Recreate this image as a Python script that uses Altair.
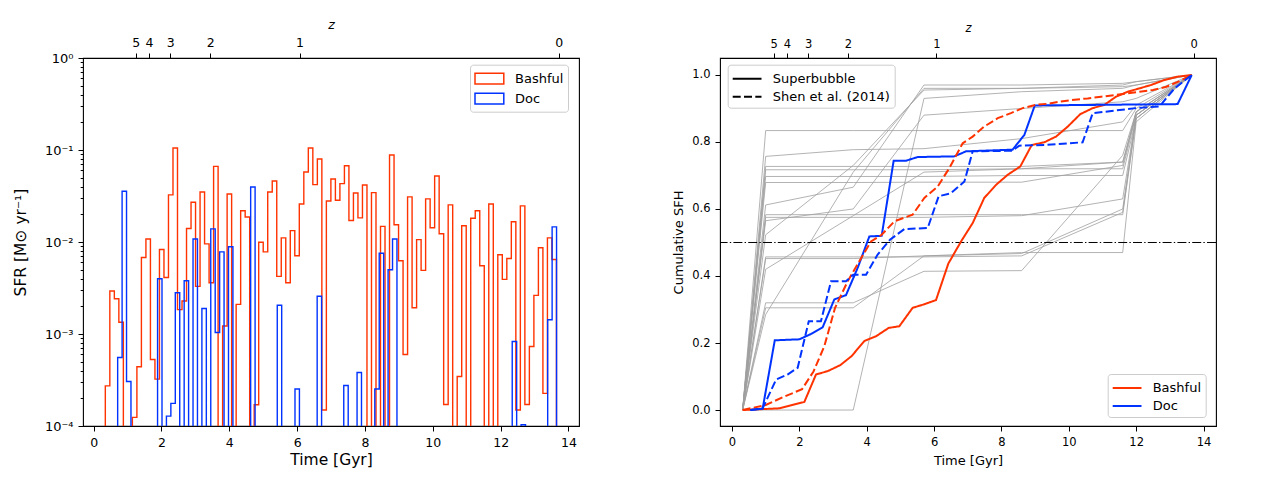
import altair as alt
import pandas as pd

FONT = "DejaVu Sans"
RED = "#ff3300"
BLUE = "#0033ff"
GREY = "#a0a0a0"

# ---------------- left panel: SFR histograms ----------------
bash_t0, bash_dt = 0.345, 0.133      # first bin edge / bin width [Gyr]
doc_t0, doc_dt = 0.709, 0.1307

bash_sfr = [
    2.73e-4, 2.93e-3, 2.42e-3, 1.34e-3, 0, 0, 1.24e-4, 4.40e-4, 6.79e-3, 1.08e-2,
    5.28e-4, 3.23e-4, 8.29e-3, 4.12e-3, 3.25e-2, 1.05e-1, 1.84e-3, 2.28e-3, 1.40e-2, 2.70e-2,
    3.29e-3, 3.50e-2, 9.55e-3, 3.61e-3, 6.64e-2, 0, 1.22e-3, 3.33e-2, 0, 2.10e-3,
    2.19e-2, 1.87e-2, 0, 1.70e-4, 9.95e-3, 7.82e-3, 3.50e-2, 4.61e-2, 4.23e-3, 1.11e-2,
    3.61e-3, 1.33e-2, 7.08e-3, 2.59e-2, 5.76e-2, 1.05e-1, 4.20e-2, 7.98e-2, 1.49e-4, 2.79e-2,
    4.84e-2, 2.84e-2, 4.31e-2, 6.75e-2, 1.71e-2, 3.41e-2, 1.83e-2, 4.17e-2, 0, 3.44e-2,
    0, 1.48e-2, 0, 8.81e-2, 1.54e-2, 6.25e-3, 5.98e-4, 3.09e-2, 1.93e-3, 1.06e-2,
    4.91e-3, 2.94e-2, 1.43e-2, 5.22e-2, 1.23e-2, 1.71e-4, 2.53e-2, 0, 3.45e-4, 1.50e-2,
    0, 1.81e-2, 2.19e-2, 5.52e-3, 0, 2.59e-2, 0, 7.26e-3, 3.92e-3, 6.62e-3,
    1.66e-2, 1.49e-4, 2.47e-2, 1.71e-4, 7.31e-4, 2.63e-3, 8.65e-3, 2.26e-4, 1.11e-2, 6.46e-3,
]

doc_sfr = [
    5.55e-4, 3.56e-2, 3.05e-4, 0, 0, 0, 0, 0, 0, 3.99e-3,
    0, 1.28e-4, 1.76e-4, 2.81e-3, 0, 3.79e-3, 0, 1.08e-2, 0, 1.89e-3,
    0, 1.39e-2, 1.04e-3, 7.82e-3, 0, 8.87e-3, 0, 0, 0, 0,
    3.96e-2, 0, 0, 0, 0, 0, 2.05e-3, 0, 0, 0,
    2.52e-4, 0, 0, 0, 0, 2.57e-3, 0, 0, 0, 0,
    0, 2.76e-4, 0, 0, 3.82e-4, 0, 0, 0, 2.52e-4, 7.56e-3,
    0, 4.99e-3, 1.08e-2, 0, 0, 0, 0, 0, 0, 0,
    0, 0, 0, 0, 0, 0, 0, 0, 0, 0,
    0, 0, 0, 0, 0, 0, 0, 0, 0, 8.28e-4,
    0, 1.03e-4, 0, 0, 0, 0, 0, 1.43e-3, 1.46e-2,
]

# redshift axis (top)
z_pos = [1.24, 1.63, 2.26, 3.44, 6.07, 13.71]
z_lab = ["5", "4", "3", "2", "1", "0"]

# ---------------- right panel: cumulative SFH ----------------
bash_sb_t = [0.317, 1.405, 2.148, 2.494, 2.84, 3.217, 3.553, 3.929, 4.275, 4.652, 4.968,
             5.364, 5.691, 6.057, 6.423, 6.80, 7.146, 7.49, 7.84, 8.185, 8.56, 8.9, 9.27,
             9.62, 9.97, 10.34, 10.71, 11.06, 11.4, 11.75, 12.1, 12.44, 12.84, 13.24, 13.65]
bash_sb_v = [0, 0.005, 0.024, 0.106, 0.116, 0.134, 0.161, 0.206, 0.220, 0.245, 0.250,
             0.305, 0.315, 0.328, 0.437, 0.503, 0.558, 0.633, 0.672, 0.702, 0.727, 0.791, 0.799,
             0.816, 0.846, 0.883, 0.901, 0.911, 0.935, 0.950, 0.960, 0.970, 0.985, 0.995, 1.0]

bash_sh_t = [0.317, 1.0, 1.55, 2.08, 2.42, 2.74, 3.06, 3.434, 3.781, 4.127, 4.444, 4.82,
             5.364, 5.71, 6.106, 6.453, 6.849, 7.146, 7.49, 7.89, 8.28, 8.63, 9.03, 9.37,
             9.77, 10.17, 10.56, 10.96, 11.35, 11.75, 12.1, 12.5, 12.9, 13.25, 13.65]
bash_sh_v = [0, 0.015, 0.040, 0.062, 0.115, 0.190, 0.305, 0.384, 0.444, 0.503, 0.523, 0.563,
             0.583, 0.633, 0.667, 0.722, 0.796, 0.816, 0.846, 0.871, 0.886, 0.901, 0.911, 0.914,
             0.921, 0.926, 0.930, 0.935, 0.940, 0.945, 0.950, 0.955, 0.965, 0.980, 1.0]

doc_sb_t = [0.545, 0.91, 1.27, 2.0, 2.346, 2.692, 3.038, 3.385, 3.731, 4.078, 4.444, 4.80,
            5.166, 5.513, 6.6, 6.948, 8.33, 8.68, 8.99, 13.23, 13.65]
doc_sb_v = [0, 0.004, 0.208, 0.211, 0.227, 0.247, 0.330, 0.343, 0.424, 0.518, 0.520, 0.744,
            0.744, 0.755, 0.757, 0.772, 0.777, 0.821, 0.909, 0.913, 1.0]

doc_sh_t = [0.545, 0.91, 1.31, 1.65, 1.95, 2.28, 2.64, 2.94, 3.385, 3.6, 3.98, 4.325, 4.69,
            5.117, 5.81, 6.136, 6.50, 6.9, 7.146, 8.33, 8.53, 9.27, 10.41, 10.71, 11.99,
            12.69, 13.14, 13.65]
doc_sh_v = [0, 0.005, 0.091, 0.106, 0.126, 0.265, 0.265, 0.384, 0.384, 0.404, 0.404, 0.464,
            0.508, 0.540, 0.543, 0.638, 0.647, 0.682, 0.772, 0.774, 0.789, 0.791, 0.799, 0.886,
            0.901, 0.906, 0.960, 1.0]

grey_t = [0.317, 1.0, 3.6, 5.7, 8.6, 11.6, 12.0, 13.65]
grey_v = [
    [0, 0.834, 0.834, 0.834, 0.834, 0.834, 0.90, 1.0],
    [0, 0.757, 0.777, 0.780, 0.81, 0.86, 0.91, 1.0],
    [0, 0.727, 0.727, 0.727, 0.727, 0.74, 0.89, 1.0],
    [0, 0.717, 0.717, 0.717, 0.72, 0.72, 0.88, 1.0],
    [0, 0.697, 0.697, 0.697, 0.70, 0.70, 0.87, 1.0],
    [0, 0.679, 0.679, 0.68, 0.68, 0.73, 0.89, 1.0],
    [0, 0.612, 0.665, 0.97, 0.97, 0.975, 0.98, 1.0],
    [0, 0.583, 0.583, 0.583, 0.583, 0.583, 0.87, 1.0],
    [0, 0.575, 0.575, 0.575, 0.58, 0.63, 0.88, 1.0],
    [0, 0.565, 0.60, 0.88, 0.90, 0.92, 0.93, 1.0],
    [0, 0.523, 0.73, 0.955, 0.96, 0.965, 0.97, 1.0],
    [0, 0.457, 0.457, 0.457, 0.46, 0.59, 0.87, 1.0],
    [0, 0.452, 0.452, 0.46, 0.47, 0.47, 0.86, 1.0],
    [0, 0.42, 0.58, 0.71, 0.72, 0.74, 0.88, 1.0],
    [0, 0.32, 0.32, 0.414, 0.416, 0.76, 0.89, 1.0],
    [0, 0.305, 0.305, 0.46, 0.467, 0.60, 0.88, 1.0],
    [0, 0.285, 0.71, 0.96, 0.96, 0.97, 0.98, 1.0],
    [0, 0.0, 0.0, 0.93, 0.95, 0.96, 0.97, 1.0],
]
half_level = [0.5]

# ---------------- build tables ----------------
SFR_FLOOR = 1e-6


def step_frame(name, t0, dt, vals):
    n = len(vals)
    ts = [t0] + [t0 + k * dt for k in range(n)] + [t0 + n * dt]
    ys = [SFR_FLOOR] + [v if v > 0 else SFR_FLOOR for v in vals] + [SFR_FLOOR]
    return pd.DataFrame({"t": ts, "sfr": ys, "galaxy": name, "i": list(range(len(ts)))})


hist = pd.concat([step_frame("Bashful", bash_t0, bash_dt, bash_sfr),
                  step_frame("Doc", doc_t0, doc_dt, doc_sfr)], ignore_index=True)

cum_rows = []
for gal, meth, ts, vs in [("Bashful", "Superbubble", bash_sb_t, bash_sb_v),
                          ("Doc", "Superbubble", doc_sb_t, doc_sb_v),
                          ("Bashful", "Shen et al. (2014)", bash_sh_t, bash_sh_v),
                          ("Doc", "Shen et al. (2014)", doc_sh_t, doc_sh_v)]:
    for k, (t, v) in enumerate(zip(ts, vs)):
        cum_rows.append({"t": t, "v": v, "galaxy": gal, "method": meth, "i": k})
cum = pd.DataFrame(cum_rows)

grey_rows = []
for g, vs in enumerate(grey_v):
    for k, (t, v) in enumerate(zip(grey_t, vs)):
        grey_rows.append({"t": t, "v": v, "gid": g, "i": k})
grey = pd.DataFrame(grey_rows)
half = pd.DataFrame({"v": half_level})

# ---------------- axes / scales ----------------
color_scale = alt.Scale(domain=["Bashful", "Doc"], range=[RED, BLUE])
dash_scale = alt.Scale(domain=["Superbubble", "Shen et al. (2014)"], range=[[1, 0], [8, 3.3]])

common = dict(grid=False, domain=False, tickColor="black", labelColor="black",
              titleColor="black", labelFont=FONT, titleFont=FONT, titleFontWeight="normal",
              labelFlush=False, labelOverlap=False, tickWidth=1)


def zaxis(fs):
    expr = " : ".join(f"abs(datum.value - {p}) < 0.01 ? '{l}'" for p, l in zip(z_pos, z_lab)) + " : ''"
    return alt.Axis(orient="top", values=z_pos, labelExpr=expr, title="z", titleFontStyle="italic",
                    labelFontSize=fs, titleFontSize=fs, tickSize=5, labelPadding=4,
                    titlePadding=5, **common)


xL_scale = alt.Scale(domain=[-0.313, 14.31], nice=False, zero=False)
yL_scale = alt.Scale(type="log", domain=[1e-4, 1], nice=False)
xR_scale = alt.Scale(domain=[-0.356, 14.37], nice=False, zero=False)
yR_scale = alt.Scale(domain=[-0.0477, 1.0506], nice=False, zero=False)

decade = "abs(log(datum.value)/LN10 - round(log(datum.value)/LN10)) < 0.001"
y_ticks = [m * 10.0 ** e for e in (-4, -3, -2, -1) for m in range(1, 10)] + [1.0]

xL_axis = alt.Axis(values=list(range(0, 15, 2)), format="d", title="Time [Gyr]",
                   labelFontSize=12.5, titleFontSize=15.5, tickSize=5, labelPadding=5,
                   titlePadding=4, **common)
yL_axis = alt.Axis(values=y_ticks, title="SFR [M⊙ yr⁻¹]",
                   labelExpr=f"{decade} ? ['10⁰','10⁻¹','10⁻²','10⁻³','10⁻⁴'][-round(log(datum.value)/LN10)] : ''",
                   tickSize={"condition": {"test": decade, "value": 5}, "value": 2.8},
                   labelFontSize=13, titleFontSize=15.5, labelPadding=5, titlePadding=16,
                   **common)
xR_axis = alt.Axis(values=list(range(0, 15, 2)), format="d", title="Time [Gyr]",
                   labelFontSize=11.5, titleFontSize=13, tickSize=5, labelPadding=5,
                   titlePadding=7, **common)
yR_axis = alt.Axis(values=[0, 0.2, 0.4, 0.6, 0.8, 1.0], format=".1f", title="Cumulative SFH",
                   labelFontSize=11.5, titleFontSize=13, tickSize=5, labelPadding=5,
                   titlePadding=6, **common)

RECT_PATH = "M-1,-0.6H2.2V0.6H-1Z"
LINE_PATH = "M-1,0H2.2"
leg_box = dict(title=None, orient="none", labelFont=FONT, labelFontSize=13, labelColor="black",
               symbolSize=324, padding=4, rowPadding=1, labelOffset=21,
               fillColor="rgba(255,255,255,0.8)", strokeColor="#cccccc", cornerRadius=3)

leg_left = alt.Legend(legendX=387, legendY=6.7, symbolType=RECT_PATH, symbolStrokeWidth=1.5,
                      symbolFillColor="white", **leg_box)
leg_right_color = alt.Legend(legendX=387.7, legendY=316, symbolType=LINE_PATH,
                             symbolStrokeWidth=2, symbolFillColor="transparent", **leg_box)
leg_right_dash = alt.Legend(legendX=7.7, legendY=6.7, symbolType=LINE_PATH, symbolStrokeWidth=2,
                            symbolStrokeColor="black", symbolFillColor="transparent", **leg_box)

# ---------------- left panel ----------------
hbase = alt.Chart(hist)
bash_line = hbase.transform_filter("datum.galaxy == 'Bashful'").mark_line(
    interpolate="step-after", clip=True, strokeWidth=1.4).encode(
    x=alt.X("t:Q", scale=xL_scale, axis=xL_axis),
    y=alt.Y("sfr:Q", scale=yL_scale, axis=yL_axis),
    color=alt.Color("galaxy:N", scale=color_scale, legend=leg_left),
    order="i:Q")
doc_line = hbase.transform_filter("datum.galaxy == 'Doc'").mark_line(
    interpolate="step-after", clip=True, strokeWidth=1.4).encode(
    x=alt.X("t:Q", scale=xL_scale, axis=None),
    y=alt.Y("sfr:Q", scale=yL_scale, axis=yL_axis),
    color=alt.Color("galaxy:N", scale=color_scale, legend=leg_left),
    order="i:Q")
ztop_left = hbase.mark_point(opacity=0).encode(x=alt.X("t:Q", scale=xL_scale, axis=zaxis(12.5)))

left = alt.layer(bash_line, doc_line, ztop_left).resolve_axis(x="independent").properties(
    width=496, height=368)

# ---------------- right panel ----------------
yR = alt.Y("v:Q", scale=yR_scale, axis=yR_axis)
grey_lines = alt.Chart(grey).mark_line(color=GREY, strokeWidth=0.8).encode(
    x=alt.X("t:Q", scale=xR_scale, axis=xR_axis), y=yR, detail="gid:N", order="i:Q")
half_rule = alt.Chart(half).mark_rule(color="black", strokeWidth=1,
                                      strokeDash=[9, 2.2, 1.4, 2.2]).encode(y=yR)
cum_lines = alt.Chart(cum).mark_line(strokeWidth=2).encode(
    x=alt.X("t:Q", scale=xR_scale, axis=None), y=yR,
    color=alt.Color("galaxy:N", scale=color_scale, legend=leg_right_color),
    strokeDash=alt.StrokeDash("method:N", scale=dash_scale, legend=leg_right_dash),
    order="i:Q")
ztop_right = alt.Chart(cum).mark_point(opacity=0).encode(
    x=alt.X("t:Q", scale=xR_scale, axis=zaxis(11.5)))

right = alt.layer(grey_lines, half_rule, cum_lines, ztop_right).resolve_axis(
    x="independent").properties(width=496, height=368)

chart = alt.hconcat(left, right, spacing=92).resolve_scale(
    color="independent", strokeDash="independent").properties(
    padding={"left": 4, "top": 9, "right": 5, "bottom": 5}, background="white"
).configure(font=FONT).configure_view(stroke="black", strokeWidth=1.1)

chart.save("out.html", embed_options={"renderer": "svg", "actions": False})
